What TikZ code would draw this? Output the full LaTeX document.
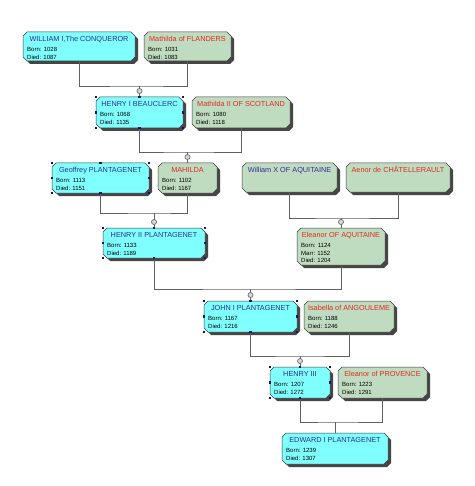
\documentclass[tikz,border=0pt]{standalone}
\usepackage{fontspec}
\setmainfont{Liberation Sans}
\definecolor{boxcyan}{RGB}{128,255,255}
\definecolor{boxgreen}{RGB}{192,220,192}
\definecolor{titleblue}{RGB}{45,45,150}
\definecolor{titlered}{RGB}{225,40,35}
\definecolor{shadowgray}{RGB}{70,70,70}
\definecolor{edgegray}{RGB}{60,60,60}
\definecolor{linegray}{RGB}{95,95,95}
\definecolor{dotgray}{RGB}{110,110,110}
\definecolor{dotfill}{RGB}{215,215,215}
\definecolor{handleblue}{RGB}{20,20,110}
\tikzset{
  conn/.style={draw=linegray, line width=0.8pt},
  jdot/.style={circle, draw=dotgray, fill=dotfill, line width=0.7pt, minimum size=5pt, inner sep=0pt},
  anchorbox/.style={rectangle, draw=none, inner sep=0pt, outer sep=0pt},
  handle/.style={rectangle, fill=handleblue, minimum size=2.6pt, inner sep=0pt},
  ttl/.style={anchor=base, inner sep=0pt, font=\fontsize{7.3}{8}\selectfont},
  det/.style={anchor=north west, inner sep=0pt, align=left, text=black, font=\fontsize{6}{7.2}\selectfont},
  cyanbox/.style={fill=boxcyan, text=titleblue},
  greenred/.style={fill=boxgreen, text=titlered},
  greenblue/.style={fill=boxgreen, text=titleblue},
}
% chamfered outline of node #1 shifted by (#2,#3) pt, drawn with options #4
\newcommand{\chshape}[4]{%
  \path[#4] ([xshift=#2pt+4pt,yshift=#3pt]#1.north west)
    -- ([xshift=#2pt-4pt,yshift=#3pt]#1.north east)
    -- ([xshift=#2pt,yshift=#3pt-4pt]#1.north east)
    -- ([xshift=#2pt,yshift=#3pt+4pt]#1.south east)
    -- ([xshift=#2pt-4pt,yshift=#3pt]#1.south east)
    -- ([xshift=#2pt+4pt,yshift=#3pt]#1.south west)
    -- ([xshift=#2pt,yshift=#3pt+4pt]#1.south west)
    -- ([xshift=#2pt,yshift=#3pt-4pt]#1.north west)
    -- cycle;}
% name, cx, cy, w, h, style, title, details
\newcommand{\person}[8]{%
  \node[anchorbox, minimum width=#4pt, minimum height=#5pt] (#1) at (#2,-#3) {};
  \chshape{#1}{3}{-3}{fill=shadowgray}
  \chshape{#1}{0}{0}{#6, draw=edgegray, line width=0.5pt}
  \node[#6, ttl, fill=none] (#1-t) at ([yshift=-9.5pt]#1.north) {#7};
  \node[det] (#1-d) at ([xshift=4pt,yshift=-15.6pt]#1.north west) {#8};
}
\newcommand{\handles}[1]{%
  \foreach \a in {north west,north,north east,east,south east,south,south west,west}
    \node[handle] at (#1.\a) {};}
\begin{document}
\begin{tikzpicture}[x=1pt,y=1pt]
\fill[white] (0,0) rectangle (474,-486);
\useasboundingbox (0,0) rectangle (474,-486);

\person{william}{79}{46.5}{112}{29}{cyanbox}{WILLIAM I,The CONQUEROR}{Born: 1028\\Died: 1087}
\person{mflanders}{187.5}{46.5}{87}{29}{greenred}{Mathilda of FLANDERS}{Born: 1031\\Died: 1083}
\person{henry1}{139.5}{112.5}{87}{31}{cyanbox}{HENRY I BEAUCLERC}{Born: 1068\\Died: 1135}
\person{mscot}{241}{112.5}{98}{31}{greenred}{Mathilda II OF SCOTLAND}{Born: 1080\\Died: 1118}
\person{geoffrey}{100.5}{178}{97}{30}{cyanbox}{Geoffrey PLANTAGENET}{Born: 1113\\Died: 1151}
\person{mahilda}{187.5}{178}{59}{30}{greenred}{MAHILDA}{Born: 1102\\Died: 1167}
\person{williamx}{289.5}{177.5}{95}{29}{greenblue}{William X OF AQUITAINE}{}
\person{aenor}{398}{177.5}{104}{29}{greenred}{Aenor de CHÂTELLERAULT}{}
\person{henry2}{154}{243}{102}{30}{cyanbox}{HENRY II PLANTAGENET}{Born: 1133\\Died: 1189}
\person{eleanor}{341}{246.5}{88}{37}{greenred}{Eleanor OF AQUITAINE}{Born: 1124\\Marr: 1152\\Died: 1204}
\person{john}{250.5}{316.5}{93}{31}{cyanbox}{JOHN I PLANTAGENET}{Born: 1167\\Died: 1216}
\person{isabella}{349}{316.5}{90}{31}{greenred}{Isabella of ANGOULEME}{Born: 1188\\Died: 1246}
\person{henry3}{300}{382.5}{60}{31}{cyanbox}{HENRY III}{Born: 1207\\Died: 1272}
\person{eprov}{382.5}{382.5}{89}{31}{greenred}{Eleanor of PROVENCE}{Born: 1223\\Died: 1291}
\person{edward}{335}{448.5}{106}{31}{cyanbox}{EDWARD I PLANTAGENET}{Born: 1239\\Died: 1307}

% junction points
\coordinate (j1) at (139.5,-86);
\coordinate (j2) at (187.5,-152);
\coordinate (j3) at (154,-213);
\coordinate (j4) at (341,-218);
\coordinate (j5) at (250.5,-289);
\coordinate (j6) at (300,-356);
\coordinate (j7) at (335,-422);

\draw[conn] (william.south) |- (j1) -| (mflanders.south);
\draw[conn] (j1) -- (henry1.north);
\draw[conn] (henry1.south) |- (j2) -| (mscot.south);
\draw[conn] (j2) -- (mahilda.north);
\draw[conn] (geoffrey.south) |- (j3) -| (mahilda.south);
\draw[conn] (j3) -- (henry2.north);
\draw[conn] (williamx.south) |- (j4) -| (aenor.south);
\draw[conn] (j4) -- (eleanor.north);
\draw[conn] (henry2.south) |- (j5) -| (eleanor.south);
\draw[conn] (j5) -- (john.north);
\draw[conn] (john.south) |- (j6) -| (isabella.south);
\draw[conn] (j6) -- (henry3.north);
\draw[conn] (henry3.south) |- (j7) -| (eprov.south);
\draw[conn] (j7) -- (edward.north);

\node[jdot] (d1) at ([yshift=6pt]henry1.north) {};
\node[jdot] (d2) at ([yshift=6pt]mahilda.north) {};
\node[jdot] (d3) at ([yshift=6pt]henry2.north) {};
\node[jdot] (d4) at ([yshift=6pt]eleanor.north) {};
\node[jdot] (d5) at ([yshift=6pt]john.north) {};
\node[jdot] (d6) at ([yshift=6pt]henry3.north) {};

\handles{henry1}
\handles{geoffrey}
\handles{henry2}
\handles{john}
\handles{henry3}
\end{tikzpicture}
\end{document}
